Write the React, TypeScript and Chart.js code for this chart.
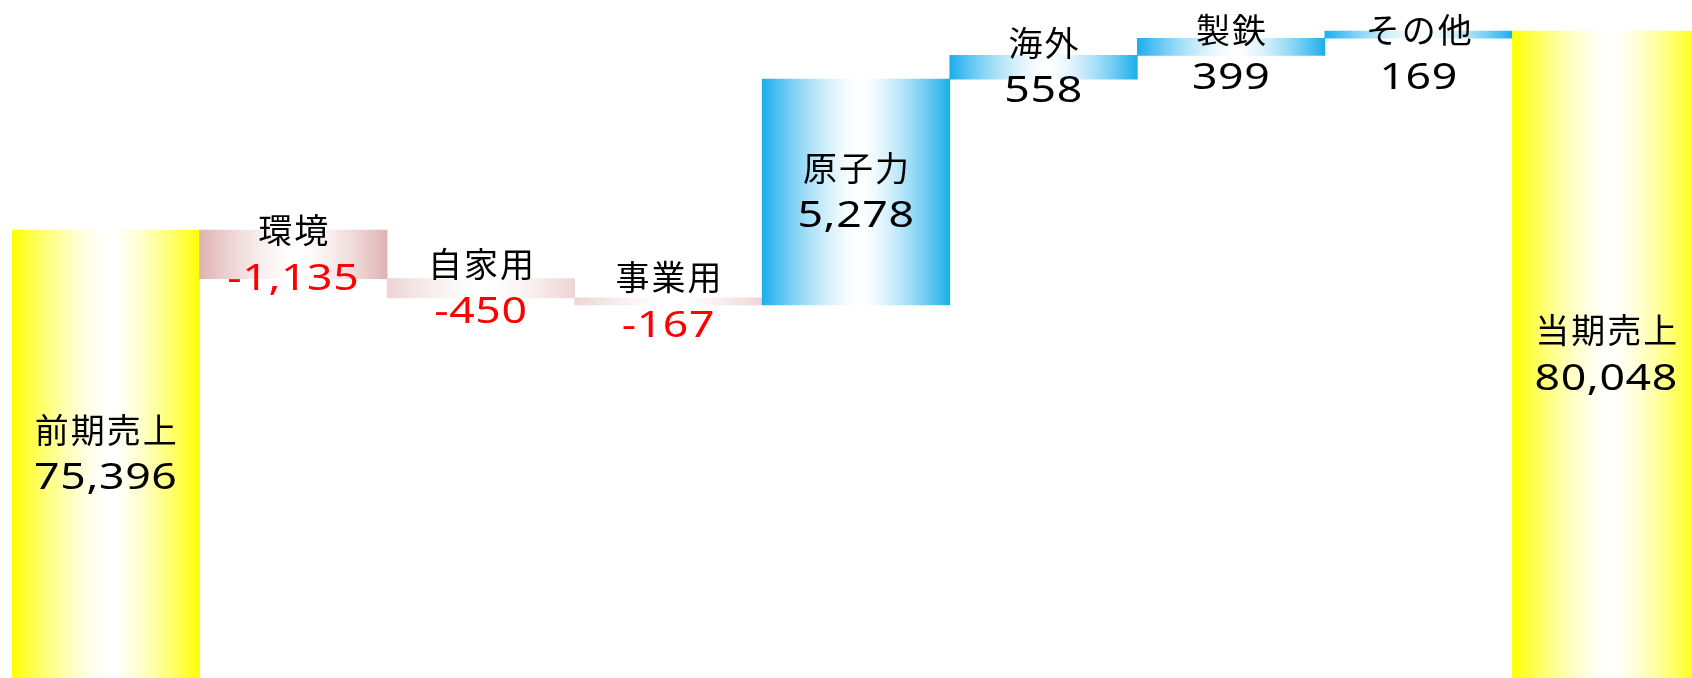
import React, { useEffect, useRef } from "react";
import { Chart, registerables } from "chart.js";

Chart.register(...registerables);

// ---- data ----
const categories = ["前期売上", "環境", "自家用", "事業用", "原子力", "海外", "製鉄", "その他", "当期売上"];
const openingTotal = 75396;
const deltas = [-1135, -450, -167, 5278, 558, 399, 169];
const closingTotal = 80048;

// ---- axis range (value scale, axes hidden) ----
const yMin = 64923;
const yMax = 80773;

// ---- styles ----
const edgeColors = ["#FFFF00", "#E0B2B2", "#ECD4D4", "#ECD4D4", "#1BAEEC", "#1BAEEC", "#1BAEEC", "#1BAEEC", "#FFFF00"];

function buildRanges(): [number, number][] {
  const out: [number, number][] = [[0, openingTotal]];
  let run = openingTotal;
  for (const d of deltas) {
    out.push([run, run + d]);
    run += d;
  }
  out.push([0, closingTotal]);
  return out;
}

function displayValues(): number[] {
  return [openingTotal, ...deltas, closingTotal];
}

const fmt = (v: number) => v.toLocaleString("en-US");

function hexToRgb(h: string): [number, number, number] {
  const n = parseInt(h.slice(1), 16);
  return [(n >> 16) & 255, (n >> 8) & 255, n & 255];
}

function mixWhite(h: string, f: number): string {
  const [r, g, b] = hexToRgb(h);
  const m = (c: number) => Math.round(255 + (c - 255) * f);
  return `rgb(${m(r)},${m(g)},${m(b)})`;
}

const labelPlugin = {
  id: "barLabels",
  afterDatasetsDraw(chart: any) {
    const ctx = chart.ctx as CanvasRenderingContext2D;
    const meta = chart.getDatasetMeta(0);
    const area = chart.chartArea;
    const vals = displayValues();
    meta.data.forEach((el: any, i: number) => {
      const top = Math.max(Math.min(el.y, el.base), area.top);
      const bottom = Math.min(Math.max(el.y, el.base), area.bottom);
      const cy = Math.max((top + bottom) / 2, area.top + 54);
      const cx = el.x;
      ctx.save();
      ctx.textAlign = "center";
      ctx.textBaseline = "middle";
      ctx.fillStyle = "#000";
      ctx.font = '34px "Noto Sans CJK JP"';
      (ctx as any).letterSpacing = "2px";
      ctx.fillText(categories[i], cx + 1, cy - 24);
      ctx.restore();

      ctx.save();
      ctx.textAlign = "center";
      ctx.textBaseline = "middle";
      const isNeg = vals[i] < 0;
      ctx.fillStyle = isNeg ? "#FF0000" : "#000";
      ctx.font = '36px "Noto Sans"';
      (ctx as any).letterSpacing = "0.5px";
      ctx.translate(cx, cy + 25);
      ctx.scale(1.24, 1);
      ctx.fillText(fmt(vals[i]), 0, 0);
      ctx.restore();
    });
  },
};

export default function App() {
  const canvasRef = useRef<HTMLCanvasElement | null>(null);

  useEffect(() => {
    document.body.style.margin = "0";
    const canvas = canvasRef.current;
    if (!canvas) return;
    const chart = new Chart(canvas, {
      type: "bar",
      data: {
        labels: categories,
        datasets: [
          {
            data: buildRanges() as any,
            borderWidth: 0,
            barPercentage: 1,
            categoryPercentage: 1,
            backgroundColor: (c: any) => {
              const i = c.dataIndex;
              const chartObj = c.chart;
              if (i === undefined) return edgeColors[0];
              const edge = edgeColors[i];
              if (!chartObj.chartArea) return edge;
              const xs = chartObj.scales.x;
              const cx = xs.getPixelForValue(i);
              const half = xs.width / categories.length / 2;
              const g = chartObj.ctx.createLinearGradient(cx - half, 0, cx + half, 0);
              const center = 0.52;
              for (let k = 0; k <= 20; k++) {
                const p = k / 20;
                const d = p < center ? (center - p) / center : (p - center) / (1 - center);
                const f = Math.pow(Math.min(1, d), 1.5);
                g.addColorStop(p, mixWhite(edge, f));
              }
              return g;
            },
          },
        ],
      },
      options: {
        responsive: false,
        animation: false,
        layout: { padding: 0 },
        plugins: { legend: { display: false }, tooltip: { enabled: false } },
        scales: {
          x: { display: false, offset: true, grid: { display: false } },
          y: { display: false, min: yMin, max: yMax, grid: { display: false } },
        },
      },
      plugins: [labelPlugin],
    });
    return () => chart.destroy();
  }, []);

  return (
    <div style={{ position: "fixed", left: 0, top: 0, width: 1692, height: 678, overflow: "hidden", background: "#fff" }}>
      <div style={{ position: "absolute", left: 12, top: 0, width: 1688, height: 678 }}>
        <canvas ref={canvasRef} width={1688} height={678} style={{ width: 1688, height: 678, display: "block" }} />
      </div>
    </div>
  );
}
